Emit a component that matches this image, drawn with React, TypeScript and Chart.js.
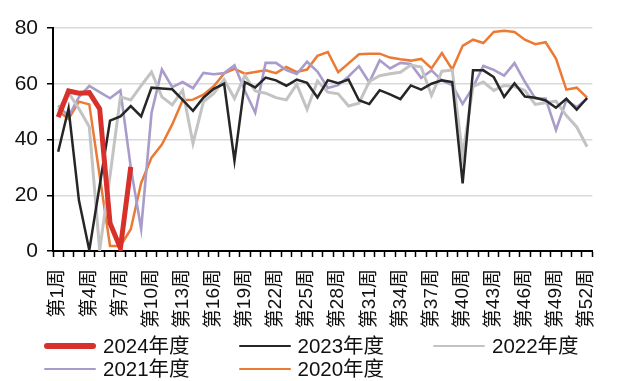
import React, { useEffect, useRef } from "react";
import { Chart, registerables } from "chart.js";

Chart.register(...registerables);

// Weekly categories
const weeks: string[] = [
  "第1周", "第2周", "第3周", "第4周", "第5周", "第6周", "第7周", "第8周", "第9周", "第10周",
  "第11周", "第12周", "第13周", "第14周", "第15周", "第16周", "第17周", "第18周", "第19周", "第20周",
  "第21周", "第22周", "第23周", "第24周", "第25周", "第26周", "第27周", "第28周", "第29周", "第30周",
  "第31周", "第32周", "第33周", "第34周", "第35周", "第36周", "第37周", "第38周", "第39周", "第40周",
  "第41周", "第42周", "第43周", "第44周", "第45周", "第46周", "第47周", "第48周", "第49周", "第50周",
  "第51周", "第52周",
];

const y2024: number[] = [48, 57.4, 56.6, 56.8, 51, 10, 1, 30.2];

const y2023: number[] = [
  35.6, 51.1, 18.2, 0.3, 23.5, 46.8, 48.3, 52, 48.3, 58.6,
  58.3, 58, 54.2, 50.3, 55, 58.2, 60, 32.4, 60.6, 58.7,
  62.2, 61.2, 59.3, 61.5, 60.3, 55.1, 61.3, 60.2, 61.5, 54.1,
  52.7, 57.7, 56.2, 54.5, 59.4, 57.9, 60, 61.2, 60.6, 24.3,
  64.8, 64.8, 62.4, 55.3, 60.2, 55.4, 55, 54, 51.4, 54.6,
  50.7, 54.9,
];

const y2022: number[] = [
  50.5, 56.8, 51, 44.6, 0.3, 27, 55.3, 54.2, 59.3, 64.2,
  55.3, 52.4, 57.7, 38.6, 53.5, 56.5, 61.5, 54.7, 62.9, 57.4,
  56.6, 55, 54.2, 59.8, 50.8, 61, 57, 56.4, 52, 53,
  60.8, 62.9, 63.6, 64.1, 66.7, 66, 55.8, 64.5, 64.9, 34,
  59.1, 60.6, 57.6, 59.4, 59, 57.6, 52.6, 53.2, 53.8, 48.6,
  44.5, 37.4,
];

const y2021: number[] = [
  52.2, 48.3, 55.2, 59.2, 57, 54.8, 57.6, 30, 7.9, 49.5,
  65.1, 58.8, 60.6, 58.4, 63.9, 63.4, 63.8, 66.6, 57.5, 49.6,
  67.5, 67.5, 64.9, 63.5, 67.9, 64.4, 58.5, 59.5, 62.6, 66.3,
  60.5, 68.4, 65.5, 67.5, 67.1, 62.1, 64.8, 61.2, 59.5, 52.8,
  58.8, 66.4, 65, 62.9, 67.4, 60.7, 54.7, 54.7, 43.4, 54.1,
  51.6, 54.7,
];

const y2020: number[] = [
  50.2, 47.4, 53.6, 52.6, 27, 1.8, 1.8, 7.8, 24.4, 33.5,
  38.2, 45.4, 54.1, 54.3, 56.1, 59.1, 63.7, 65.3, 63.6, 64.2,
  64.8, 63.8, 66, 64.2, 65.1, 70, 71.4, 64.1, 67.3, 70.6,
  70.8, 70.8, 69.4, 68.8, 68.3, 68.9, 65.5, 71, 65.1, 73.6,
  75.8, 74.6, 78.6, 79, 78.6, 75.8, 74.2, 74.9, 69, 57.9,
  58.6, 55,
];

const seriesNames: string[] = ["2024年度", "2023年度", "2022年度", "2021年度", "2020年度"];
const seriesData: number[][] = [y2024, y2023, y2022, y2021, y2020];
const seriesColors: string[] = ["#d8302b", "#262626", "#c3c3c3", "#a99ccb", "#ec7a34"];
const seriesWidths: number[] = [5, 2.5, 3, 2.6, 2.5];
const legendLineWidths: number[] = [6, 2.2, 2.2, 2.2, 2.2];

const yTicks: number[] = [0, 20, 40, 60, 80];

const FONT = '"Liberation Sans", Arial, "Noto Sans CJK SC", sans-serif';
const CANVAS_W = 622;
const CANVAS_H = 335;

export default function App() {
  const canvasRef = useRef<HTMLCanvasElement | null>(null);

  useEffect(() => {
    const canvas = canvasRef.current;
    if (!canvas) return;
    const chart = new Chart(canvas, {
      type: "line",
      data: {
        labels: weeks,
        datasets: seriesNames.map((name, i) => ({
          label: name,
          data: seriesData[i],
          borderColor: seriesColors[i],
          backgroundColor: seriesColors[i],
          borderWidth: seriesWidths[i],
          pointRadius: 0,
          tension: 0,
          fill: false,
        })),
      },
      options: {
        responsive: false,
        animation: false,
        devicePixelRatio: 1,
        layout: { padding: { top: 28, right: 12, left: 0, bottom: 0 } },
        plugins: {
          legend: { display: false },
          tooltip: { enabled: false },
        },
        scales: {
          x: {
            type: "category",
            offset: true,
            grid: {
              offset: true,
              drawOnChartArea: false,
              drawTicks: true,
              tickLength: 6,
              tickColor: "#000",
              tickWidth: 1.5,
            },
            border: { display: true, color: "#000", width: 2 },
            ticks: {
              autoSkip: false,
              maxRotation: 90,
              minRotation: 90,
              padding: 12,
              color: "#111",
              font: { family: FONT, size: 19 },
              callback: (_v: any, index: number) => (index % 3 === 0 ? weeks[index] : ""),
            },
            afterFit: (scale: any) => {
              scale.height = CANVAS_H - 251;
            },
          },
          y: {
            min: 0,
            max: 80,
            afterBuildTicks: (scale: any) => {
              scale.ticks = yTicks.map((v) => ({ value: v }));
            },
            grid: {
              color: "#d9d9d9",
              lineWidth: 1.5,
              tickLength: 6,
              tickColor: "#000",
              tickWidth: 1.5,
            },
            border: { display: true, color: "#000", width: 2 },
            ticks: {
              padding: 9,
              color: "#111",
              font: { family: FONT, size: 21 },
            },
            afterFit: (scale: any) => {
              scale.width = 53;
            },
          },
        },
      },
    });
    return () => chart.destroy();
  }, []);

  return (
    <div
      style={{
        position: "fixed",
        left: 0,
        top: 0,
        width: CANVAS_W,
        height: 381,
        background: "#fff",
        overflow: "hidden",
        fontFamily: FONT,
      }}
    >
      <canvas
        ref={canvasRef}
        width={CANVAS_W}
        height={CANVAS_H}
        style={{ position: "absolute", left: 0, top: 0, width: CANVAS_W, height: CANVAS_H }}
      />
      {seriesNames.map((name, i) => {
        const col = i % 3;
        const row = Math.floor(i / 3);
        return (
          <div
            key={name}
            style={{
              position: "absolute",
              left: 44 + col * 194.5,
              top: 335 + row * 23,
              height: 22,
              display: "flex",
              alignItems: "center",
              whiteSpace: "nowrap",
            }}
          >
            <div
              style={{
                width: 52,
                height: legendLineWidths[i],
                borderRadius: legendLineWidths[i] / 2,
                background: seriesColors[i],
                marginRight: 7,
              }}
            />
            <span style={{ fontSize: 20.5, color: "#111", lineHeight: "22px" }}>{name}</span>
          </div>
        );
      })}
    </div>
  );
}
